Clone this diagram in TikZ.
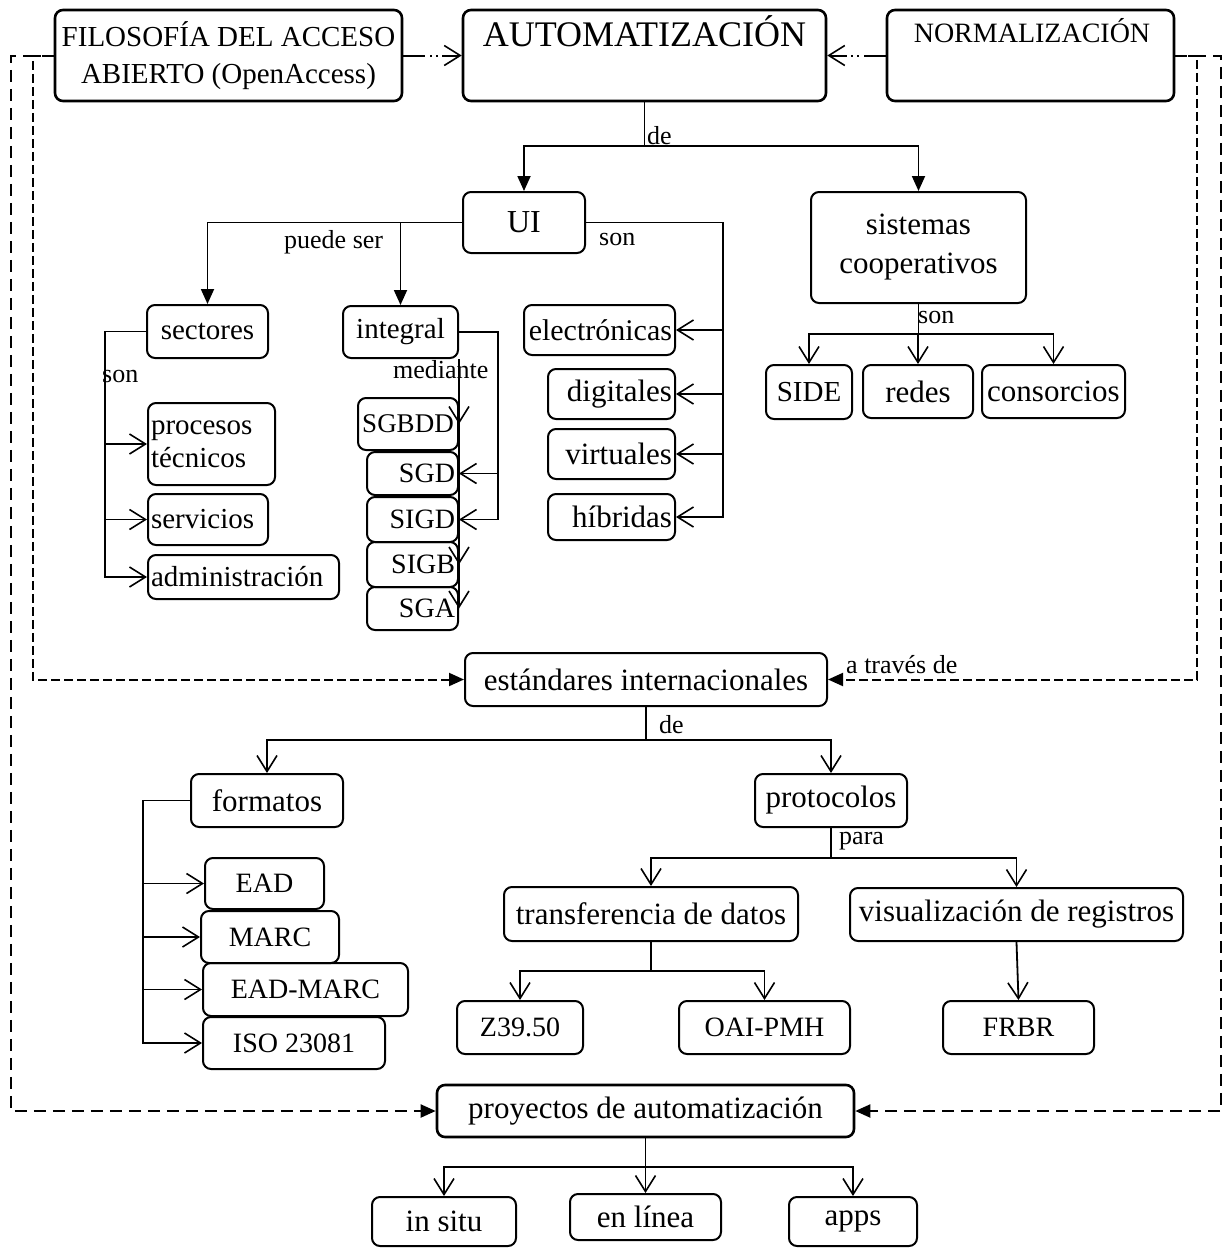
\documentclass[tikz,border=0pt]{standalone}
\usepackage{fontspec}
\setmainfont{Liberation Serif}
\usetikzlibrary{arrows.meta, positioning, calc}

\begin{document}
\begin{tikzpicture}[x=1pt, y=-1pt,
  box/.style={draw, line width=2pt, rounded corners=8pt, inner sep=3pt, align=center},
  heavy/.style={line width=2.6pt},
  sz/.style 2 args={minimum width=#1pt, minimum height=#2pt},
  fnt/.style={font=\fontsize{#1}{#1}\selectfont},
  lbl/.style={inner sep=0pt, font=\fontsize{26}{26}\selectfont},
  conn/.style={line width=1.8pt},
  arrf/.style={-{Triangle[length=15pt, width=13pt]}},
  arro/.style={-{Straight Barb[length=16pt, width=20pt, line width=1.6pt]}},
  dashdot/.style={line width=2pt, dash pattern=on 22pt off 5pt on 2pt off 4pt on 2pt off 4pt},
  longdash/.style={line width=2pt, dash pattern=on 12pt off 7pt},
  shortdash/.style={line width=2pt, dash pattern=on 9pt off 4pt}]
\useasboundingbox (0,0) rectangle (1224,1248);

\node[box, heavy, sz={347}{91}, fnt=29] (filo) at (228.5,55.5) {FILOSOFÍA DEL ACCESO\\[8pt]ABIERTO (OpenAccess)};
\node[box, heavy, sz={363}{91}] (auto) at (644.5,55.5) {};
\node[fnt=36, anchor=base] (autot) at (644.5,46.5) {AUTOMATIZACIÓN};
\node[box, heavy, sz={287}{91}] (norm) at (1030.5,55.5) {};
\node[fnt=28, anchor=base] (normt) at (1032,42) {NORMALIZACIÓN};

\node[box, sz={122}{61}, fnt=32] (ui) at (524,222.5) {UI};
\node[box, sz={215}{111}, fnt=31] (sist) at (918.5,247.5) {sistemas\\[8pt]cooperativos};

\node[box, sz={121}{53}, fnt=29] (sect) at (207.5,331.5) {sectores};
\node[box, sz={115}{52}, fnt=29] (integ) at (400.5,332) {integral};
\node[box, sz={127}{82}, fnt=29, text width=121pt, align=left] (proc) at (211.5,444) {procesos\\[4pt]técnicos};
\node[box, sz={120}{51}, fnt=29, text width=114pt, align=left] (serv) at (208,519.5) {servicios};
\node[box, sz={191}{44}, fnt=29, text width=185pt, align=left] (admin) at (243.5,577) {administración};

\node[box, sz={100}{52}, fnt=27] (sgbdd) at (408,424) {SGBDD};
\node[box, sz={91}{43}, fnt=28, text width=85pt, align=right] (sgd) at (412.5,473.5) {SGD};
\node[box, sz={91}{45}, fnt=28, text width=85pt, align=right] (sigd) at (412.5,519.5) {SIGD};
\node[box, sz={91}{45}, fnt=28, text width=85pt, align=right] (sigb) at (412.5,564.5) {SIGB};
\node[box, sz={91}{43}, fnt=28, text width=85pt, align=right] (sga) at (412.5,608.5) {SGA};

\node[box, sz={151}{50}, fnt=30, text width=145pt, align=right] (elec) at (599.5,330) {electrónicas};
\node[box, sz={127}{50}, fnt=31, text width=121pt, align=right] (digi) at (611.5,394) {digitales};
\node[box, sz={127}{50}, fnt=31, text width=121pt, align=right] (virt) at (611.5,454) {virtuales};
\node[box, sz={127}{46}, fnt=31, text width=121pt, align=right] (hibr) at (611.5,517) {híbridas};

\node[box, sz={86}{54}, fnt=29] (side) at (809,392) {SIDE};
\node[box, sz={110}{53}, fnt=31] (redes) at (918,391.5) {redes};
\node[box, sz={143}{53}, fnt=31] (cons) at (1053.5,391.5) {consorcios};

\node[box, sz={362}{53}, fnt=31] (estd) at (646,679.5) {estándares internacionales};
\node[box, sz={152}{53}, fnt=31] (form) at (267,800.5) {formatos};
\node[box, sz={152}{53}, fnt=31] (prot) at (831,800.5) {protocolos};

\node[box, sz={119}{51}, fnt=28] (ead) at (264.5,883.5) {EAD};
\node[box, sz={138}{52}, fnt=28] (marc) at (270,937) {MARC};
\node[box, sz={205}{53}, fnt=28] (eadm) at (305.5,989.5) {EAD-MARC};
\node[box, sz={182}{52}, fnt=28] (iso) at (294,1043) {ISO 23081};

\node[box, sz={294}{54}, fnt=31] (trans) at (651,914) {transferencia de datos};
\node[box, sz={333}{53}, fnt=31] (visu) at (1016.5,914.5) {visualización de registros};
\node[box, sz={126}{53}, fnt=28] (z39) at (520,1027.5) {Z39.50};
\node[box, sz={171}{53}, fnt=28] (oai) at (764.5,1027.5) {OAI-PMH};
\node[box, sz={151}{53}, fnt=28] (frbr) at (1018.5,1027.5) {FRBR};

\node[box, heavy, sz={417}{52}, fnt=31] (proy) at (645.5,1111) {proyectos de automatización};
\node[box, sz={144}{49}, fnt=31] (insitu) at (444,1221.5) {in situ};
\node[box, sz={151}{46}, fnt=31] (enlin) at (645.5,1217) {en línea};
\node[box, sz={128}{49}, fnt=31] (apps) at (853,1221.5) {apps};

\coordinate (autoJ) at (644.5,146);
\coordinate (uiR) at (723,222.5);
\coordinate (sistJ) at (918.5,334);
\coordinate (sectJ) at (105,331.5);
\coordinate (integJ) at (498,332);
\coordinate (estdJ) at (646,740);
\coordinate (formJ) at (143,800.5);
\coordinate (protJ) at (831,858);
\coordinate (transJ) at (651,971);
\coordinate (proyJ) at (645.5,1167);
\coordinate (filoL) at (33,55.5);
\coordinate (filoLL) at (11,55.5);
\coordinate (normR) at (1197,55.5);
\coordinate (normRR) at (1221,55.5);

\draw[dashdot, arro] (filo) -- (auto);
\draw[dashdot, arro] (norm) -- (auto);

\draw[conn, arrf] (auto.south) -- (autoJ) -| (ui.north);
\draw[conn, arrf] (auto.south) -- (autoJ) -| (sist.north);
\node[lbl, anchor=base west] (de1) at (647,144) {de};

\draw[conn, arrf] (ui.west) -| (sect.north);
\draw[conn, arrf] (ui.west) -| (integ.north);
\node[lbl, anchor=base west] (puede) at (284,248) {puede ser};
\foreach \n in {elec,digi,virt,hibr}
  \draw[conn, arro] (ui.east) -- (uiR) |- (\n.east);
\node[lbl, anchor=base west] (son1) at (599,245) {son};

\foreach \n in {side,redes,cons}
  \draw[conn, arro] (sist.south) -- (sistJ) -| (\n.north);
\node[lbl, anchor=base west] (son2) at (918,323) {son};

\foreach \n in {proc,serv,admin}
  \draw[conn, arro] (sect.west) -- (sectJ) |- (\n.west);
\node[lbl, anchor=base west] (son3) at (102,382) {son};

\foreach \n in {sgd,sigd}
  \draw[conn, arro] (integ.east) -- (integJ) |- (\n.east);
\foreach \n in {sgbdd,sigb,sga}
  \draw[conn, arro] (integ.south east) -- (\n.east);
\node[lbl, anchor=base west] (med) at (393,378) {mediante};

\draw[conn, arro] (estd.south) -- (estdJ) -| (form.north);
\draw[conn, arro] (estd.south) -- (estdJ) -| (prot.north);
\node[lbl, anchor=base west] (de2) at (659,733) {de};

\foreach \n in {ead,marc,eadm,iso}
  \draw[conn, arro] (form.west) -- (formJ) |- (\n.west);

\draw[conn, arro] (prot.south) -- (protJ) -| (trans.north);
\draw[conn, arro] (prot.south) -- (protJ) -| (visu.north);
\node[lbl, anchor=base west] (para) at (839,844) {para};

\draw[conn, arro] (trans.south) -- (transJ) -| (z39.north);
\draw[conn, arro] (trans.south) -- (transJ) -| (oai.north);
\draw[conn, arro] (visu.south) -- (frbr.north);

\foreach \n in {insitu,enlin,apps}
  \draw[conn, arro] (proy.south) -- (proyJ) -| (\n.north);

\draw[shortdash, arrf] (filo.west) -- (filoL) |- (estd.west);
\draw[longdash, arrf] (filo.west) -- (filoLL) |- (proy.west);
\draw[shortdash, arrf] (norm.east) -- (normR) |- (estd.east);
\draw[longdash, arrf] (norm.east) -- (normRR) |- (proy.east);
\node[lbl, anchor=base west] (atraves) at (846,673) {a través de};
\end{tikzpicture}
\end{document}
